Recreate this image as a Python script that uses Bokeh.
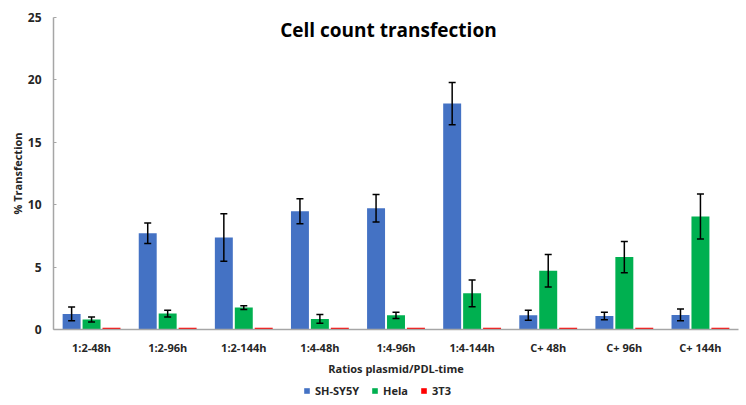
from bokeh.plotting import figure
from bokeh.layouts import column
from bokeh.models import ColumnDataSource, FactorRange, Whisker, Legend, LegendItem, Label, Range1d, TeeHead
from bokeh.transform import dodge
from bokeh.embed import file_html
from bokeh.resources import INLINE

categories = ["1:2-48h", "1:2-96h", "1:2-144h", "1:4-48h", "1:4-96h", "1:4-144h", "C+ 48h", "C+ 96h", "C+ 144h"]
series_names = ["SH-SY5Y", "Hela", "3T3"]
shsy5y = [1.25, 7.72, 7.37, 9.48, 9.72, 18.1, 1.14, 1.09, 1.17]
shsy5y_err = [0.55, 0.82, 1.9, 1.0, 1.1, 1.7, 0.4, 0.3, 0.47]
hela = [0.8, 1.28, 1.76, 0.85, 1.14, 2.9, 4.71, 5.8, 9.05]
hela_err = [0.2, 0.27, 0.15, 0.35, 0.25, 1.07, 1.3, 1.25, 1.8]
t3t3 = [0.15, 0.15, 0.15, 0.15, 0.15, 0.15, 0.15, 0.15, 0.15]
colors = ["#4472C4", "#00B050", "#FF0000"]

FONT = "Open Sans"
TXT = "#262626"

src = ColumnDataSource(dict(
    cat=categories,
    a=shsy5y, a_up=[v + e for v, e in zip(shsy5y, shsy5y_err)], a_lo=[v - e for v, e in zip(shsy5y, shsy5y_err)],
    b=hela, b_up=[v + e for v, e in zip(hela, hela_err)], b_lo=[v - e for v, e in zip(hela, hela_err)],
    c=t3t3,
))

p = figure(width=746, height=378, x_range=FactorRange(*categories, range_padding=0.0),
           y_range=Range1d(0, 25), output_backend="svg", toolbar_location=None,
           min_border_left=53, min_border_right=8, min_border_top=17, min_border_bottom=48)
p.outline_line_color = None
p.xgrid.grid_line_color = None
p.ygrid.grid_line_color = None

off = 0.262
w = 0.236
for field, col, dx in zip(["a", "b", "c"], colors, [-off, 0, off]):
    p.vbar(x=dodge("cat", dx, range=p.x_range), top=field, width=w, source=src,
           fill_color=col, line_color=None)

for up, lo, dx in [("a_up", "a_lo", -off), ("b_up", "b_lo", 0)]:
    wk = Whisker(base=dodge("cat", dx, range=p.x_range), upper=up, lower=lo, source=src,
                 line_color="black", line_width=1.5, level="overlay",
                 upper_head=TeeHead(size=7, line_color="black", line_width=1.5),
                 lower_head=TeeHead(size=7, line_color="black", line_width=1.5))
    p.add_layout(wk)

p.yaxis.ticker = [0, 5, 10, 15, 20, 25]
p.yaxis.axis_line_color = "#a6a6a6"
p.yaxis.axis_line_width = 1.5
p.yaxis.major_tick_line_color = "#a6a6a6"
p.yaxis.major_tick_out = 0
p.yaxis.major_tick_in = 3
p.yaxis.minor_tick_line_color = None
p.yaxis.major_label_text_font = FONT
p.yaxis.major_label_text_font_size = "12px"
p.yaxis.major_label_text_font_style = "bold"
p.yaxis.major_label_text_color = TXT
p.yaxis.major_label_standoff = 12
p.yaxis.axis_label = "% Transfection"
p.yaxis.axis_label_text_font = FONT
p.yaxis.axis_label_text_font_size = "11px"
p.yaxis.axis_label_text_font_style = "bold"
p.yaxis.axis_label_text_color = TXT
p.yaxis.axis_label_standoff = 0

p.xaxis.axis_line_color = "#a6a6a6"
p.xaxis.axis_line_width = 1.5
p.xaxis.major_tick_line_color = None
p.xaxis.minor_tick_line_color = None
p.xaxis.major_label_text_font = FONT
p.xaxis.major_label_text_font_size = "11px"
p.xaxis.major_label_text_font_style = "bold"
p.xaxis.major_label_text_color = TXT
p.xaxis.major_label_standoff = 4
p.xaxis.axis_label = "Ratios plasmid/PDL-time"
p.xaxis.axis_label_text_font = FONT
p.xaxis.axis_label_text_font_size = "11px"
p.xaxis.axis_label_text_font_style = "bold"
p.xaxis.axis_label_text_color = TXT
p.xaxis.axis_label_standoff = 3

title = Label(x=4.4, y=23.96, text="Cell count transfection", text_font=FONT,
              text_font_size="19px", text_font_style="bold", text_color="black",
              text_align="center", text_baseline="middle")
p.add_layout(title)

# legend strip below the chart (its bars are drawn from the data but lie outside the strip's view)
pl = figure(width=746, height=27, x_range=FactorRange(*categories), y_range=Range1d(100, 101),
            output_backend="svg", toolbar_location=None, x_axis_type=None, y_axis_type=None,
            min_border=0)
pl.outline_line_color = None
pl.xgrid.grid_line_color = None
pl.ygrid.grid_line_color = None
lrs = [pl.vbar(x="cat", top=f, width=0.2, source=src, fill_color=c, line_color=None)
       for f, c in zip(["a", "b", "c"], colors)]
legend = Legend(items=[LegendItem(label=n, renderers=[r]) for n, r in zip(series_names, lrs)],
                orientation="horizontal", location=(250, 7),
                label_text_font=FONT, label_text_font_size="11px", label_text_font_style="bold",
                label_text_color=TXT, glyph_width=7, glyph_height=7, label_standoff=5,
                label_height=11, spacing=12, padding=2, margin=0, border_line_color=None,
                background_fill_alpha=0)
pl.add_layout(legend)

open("out.html", "w").write(file_html(column(p, pl, spacing=0), INLINE))
